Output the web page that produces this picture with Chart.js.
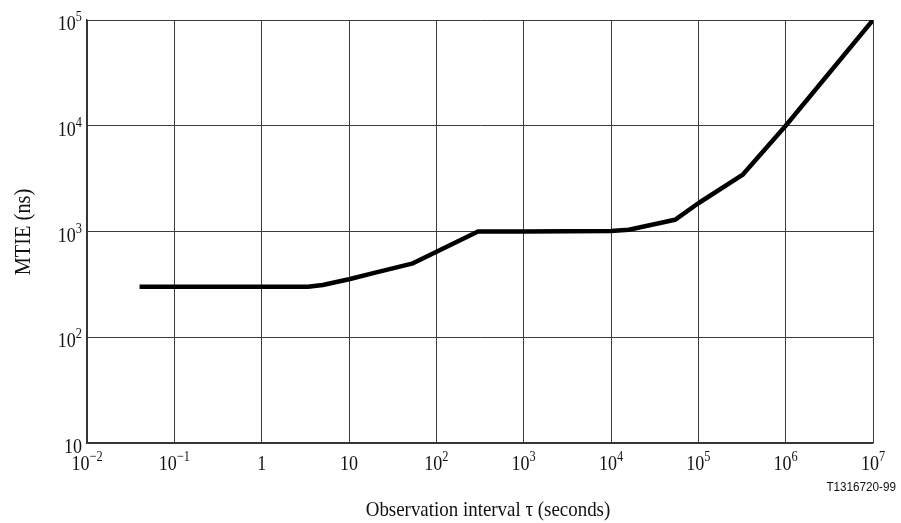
<!DOCTYPE html>
<html>
<head>
<meta charset="utf-8">
<script src="https://cdn.jsdelivr.net/npm/chart.js@4.4.1/dist/chart.umd.min.js"></script>
<style>
    html, body { margin: 0; padding: 0; background: #ffffff; }
    canvas { display: block; }
</style>
</head>
<body>
<canvas id="mtieChart" width="901" height="523"></canvas>
<script>
// Observation interval (s) and MTIE (ns)
const tauValues = [0.04, 3.4, 5, 10, 20, 54, 300, 1000, 10000, 16000, 54000, 100000, 320000, 1000000, 10000000];
const mtieValues = [300, 300, 312, 354, 408, 500, 1000, 1000, 1010, 1040, 1290, 1850, 3430, 10000, 100000];

// Decade ticks and their labels as [base, exponent]
const xTickValues = [1e-2, 1e-1, 1, 10, 1e2, 1e3, 1e4, 1e5, 1e6, 1e7];
const xTickLabels = [['10', '\u22122'], ['10', '\u22121'], ['1', ''], ['10', ''], ['10', '2'], ['10', '3'], ['10', '4'], ['10', '5'], ['10', '6'], ['10', '7']];
const yTickValues = [10, 1e2, 1e3, 1e4, 1e5];
const yTickLabels = [['10', ''], ['10', '2'], ['10', '3'], ['10', '4'], ['10', '5']];

const xTitle = 'Observation interval \u03c4 (seconds)';
const yTitle = 'MTIE (ns)';
const figureId = 'T1316720-99';

document.addEventListener('DOMContentLoaded', () => {
    const ctx = document.getElementById('mtieChart').getContext('2d');
    const serif = "'Liberation Serif', 'Times New Roman', serif";
    const squeeze = 0.82; // the original type is set condensed

    // draw text squeezed horizontally
    function drawNarrow(c, text, x, y, sx) {
        c.save();
        c.translate(x, y);
        c.scale(sx, 1);
        c.fillText(text, 0, 0);
        c.restore();
    }

    // "10" with a raised exponent
    function powerWidth(c, label) {
        c.font = '22px ' + serif;
        let w = c.measureText(label[0]).width * squeeze;
        if (label[1]) {
            c.font = '15px ' + serif;
            w += c.measureText(label[1]).width * squeeze;
        }
        return w;
    }
    function drawPower(c, label, left, baseline) {
        c.textAlign = 'left';
        c.font = '22px ' + serif;
        drawNarrow(c, label[0], left, baseline, squeeze);
        if (label[1]) {
            const wb = c.measureText(label[0]).width * squeeze;
            c.font = '15px ' + serif;
            drawNarrow(c, label[1], left + wb, baseline - 9, squeeze);
        }
    }

    const decadeLabels = {
        id: 'decadeLabels',
        afterDraw(chart) {
            const c = chart.ctx;
            const xs = chart.scales.x;
            const ys = chart.scales.y;
            const area = chart.chartArea;
            c.save();
            c.fillStyle = '#111111';
            c.textBaseline = 'alphabetic';

            xTickValues.forEach((v, i) => {
                const px = xs.getPixelForValue(v);
                const w = powerWidth(c, xTickLabels[i]);
                drawPower(c, xTickLabels[i], px - w / 2, area.bottom + 27);
            });

            yTickValues.forEach((v, i) => {
                const py = ys.getPixelForValue(v);
                const w = powerWidth(c, yTickLabels[i]);
                drawPower(c, yTickLabels[i], area.left - 5 - w, py + 10);
            });

            // axis titles
            c.textAlign = 'center';
            c.font = '22px ' + serif;
            drawNarrow(c, xTitle, 488, 516, 0.86);

            c.save();
            c.translate(30, 232);
            c.rotate(-Math.PI / 2);
            c.font = '24px ' + serif;
            drawNarrow(c, yTitle, 0, 0, 0.85);
            c.restore();

            // figure number
            c.font = "13px 'Liberation Sans', Arial, sans-serif";
            c.textAlign = 'right';
            drawNarrow(c, figureId, 896, 491, 0.9);
            c.restore();
        }
    };

    const gridStyle = {
        color: '#3c3c3c',
        lineWidth: 1,
        drawTicks: false
    };

    new Chart(ctx, {
        type: 'line',
        data: {
            datasets: [{
                data: tauValues.map((t, i) => ({ x: t, y: mtieValues[i] })),
                borderColor: '#000000',
                borderWidth: 4.5,
                pointRadius: 0,
                tension: 0,
                fill: false,
                borderJoinStyle: 'round'
            }]
        },
        options: {
            responsive: false,
            animation: false,
            layout: {
                padding: { left: 87, top: 20, right: 28, bottom: 80 }
            },
            plugins: {
                legend: { display: false },
                tooltip: { enabled: false }
            },
            scales: {
                x: {
                    type: 'logarithmic',
                    min: 1e-2,
                    max: 1e7,
                    grid: gridStyle,
                    border: { color: '#333333', width: 1.5 },
                    ticks: { display: false },
                    afterBuildTicks: (scale) => {
                        scale.ticks = xTickValues.map(v => ({ value: v }));
                    }
                },
                y: {
                    type: 'logarithmic',
                    min: 10,
                    max: 1e5,
                    grid: gridStyle,
                    border: { color: '#333333', width: 1.5 },
                    ticks: { display: false },
                    afterBuildTicks: (scale) => {
                        scale.ticks = yTickValues.map(v => ({ value: v }));
                    }
                }
            }
        },
        plugins: [decadeLabels]
    });
});
</script>
</body>
</html>
